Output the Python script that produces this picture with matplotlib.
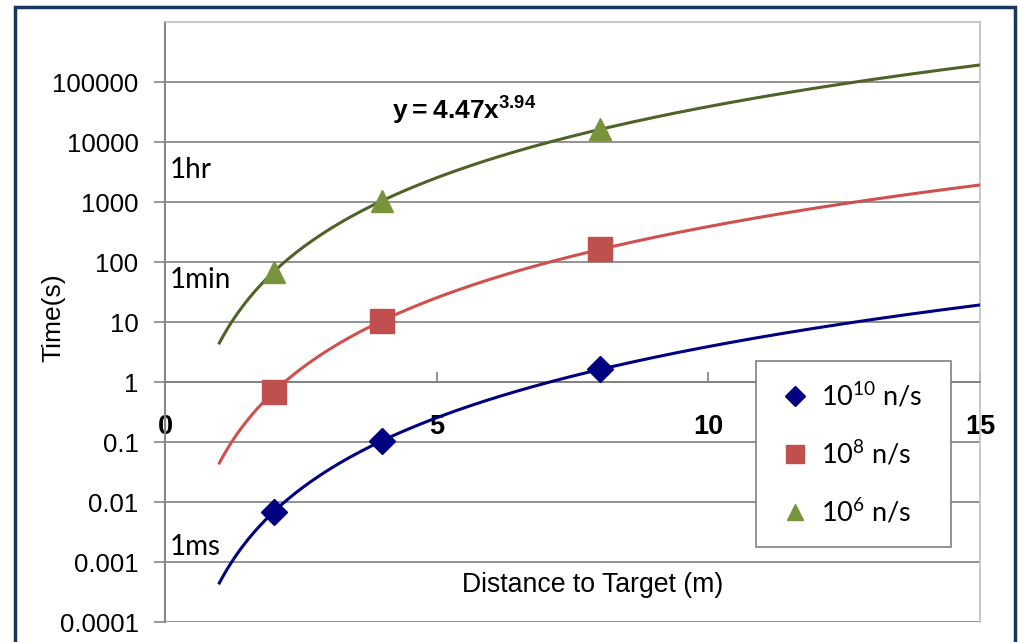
import numpy as np
import matplotlib.pyplot as plt
from matplotlib.patches import Rectangle
from matplotlib.ticker import FixedLocator, NullLocator

plt.rcParams['font.family'] = ['Liberation Sans', 'DejaVu Sans']
plt.rcParams['mathtext.fontset'] = 'custom'
plt.rcParams['mathtext.rm'] = 'Lato'
plt.rcParams['mathtext.bf'] = 'Liberation Sans:bold'

# source strength series: distance (m) vs. time (s)
distance = [2, 4, 8]
t_1e10 = [0.00686, 0.1053, 1.616]
t_1e8 = [0.686, 10.53, 161.6]
t_1e6 = [68.6, 1053, 16160]

series_labels = ['10$^{10}$ n/s', '10$^{8}$ n/s', '10$^{6}$ n/s']
y_ticks = [1e-4, 1e-3, 1e-2, 1e-1, 1, 10, 100, 1000, 1e4, 1e5]
y_ticklabels = ['0.0001', '0.001', '0.01', '0.1', '1', '10', '100', '1000', '10000', '100000']
x_ticks = [0, 5, 10, 15]

styles = [
    {'line': '#000080', 'marker': 'D', 'mfc': '#000080', 'ms': 13},
    {'line': '#D0504D', 'marker': 's', 'mfc': '#C0504D', 'ms': 17},
    {'line': '#4F6228', 'marker': '^', 'mfc': '#77933C', 'ms': 16},
]

fig = plt.figure(figsize=(10.19, 6.42), dpi=100)
ax = fig.add_axes([165 / 1019, 20 / 642, 815 / 1019, 600 / 642])

xfit = np.linspace(1, 15, 200)
for vals, st, lab in zip([t_1e10, t_1e8, t_1e6], styles, series_labels):
    # power-law trendline, fitted in log-log space
    b, a = np.polyfit(np.log10(distance), np.log10(vals), 1)
    ax.plot(xfit, 10 ** a * xfit ** b, color=st['line'], lw=2.2, zorder=3)
    ax.plot(distance, vals, linestyle='none', marker=st['marker'], ms=st['ms'],
            mfc=st['mfc'], mec=st['mfc'], label=lab, zorder=4)

ax.set_yscale('log')
ax.set_xlim(0, 15)
ax.set_ylim(1e-4, 1e6)

ax.yaxis.set_major_locator(FixedLocator(y_ticks))
ax.yaxis.set_minor_locator(NullLocator())
ax.set_yticklabels(y_ticklabels)
ax.tick_params(axis='y', direction='out', length=8, width=1.2, color='#868686',
               labelsize=18.5, pad=11)
for v in y_ticks:
    ax.axhline(v, color='#808080', lw=1.2, zorder=1)

# x axis crosses at y = 1
ax.spines['bottom'].set_position(('data', 1))
ax.spines['bottom'].set_color('#808080')
ax.spines['bottom'].set_linewidth(1.2)
ax.set_xticks(x_ticks)
ax.xaxis.set_minor_locator(NullLocator())
ax.tick_params(axis='x', direction='in', length=7, width=1.2, color='#808080',
               labelsize=19.5, pad=23)
for t in ax.get_xticklabels():
    t.set_fontweight('bold')

ax.spines['left'].set_color('#868686')
ax.spines['left'].set_linewidth(1.5)
for s in ['top', 'right']:
    ax.spines[s].set_color('#BFBFBF')
    ax.spines[s].set_linewidth(1.2)

fig.text(53 / 1019, 1 - 318 / 642, 'Time(s)', rotation=90, fontsize=19,
         ha='center', va='center')
ax.text(0.525, 0.062, 'Distance to Target (m)', transform=ax.transAxes,
        ha='center', va='center', fontsize=19.2)

ax.text(4.18, 2.33e4, r'$\mathbf{y = 4.47x^{3.94}}$', fontsize=19,
        ha='left', va='baseline')

for txt, yv in [('1hr', 3400), ('1min', 50), ('1ms', 0.0018)]:
    ax.text(0.08, yv, txt, fontsize=20, family='Lato', ha='left', va='center')

leg = ax.legend(loc='upper left', bbox_to_anchor=(0.725, 0.435), frameon=True,
                fancybox=False, edgecolor='#808080', framealpha=1,
                prop={'family': 'Lato', 'size': 19.5}, labelspacing=1.05,
                handletextpad=0.25, borderpad=0.75, handlelength=1.4,
                borderaxespad=0, markerscale=0.75)
leg.get_frame().set_linewidth(1.2)
# a little extra room on the right of the legend box
leg._legend_box.sep = 0
for t in leg.get_texts():
    t.set_text(t.get_text() + '  ')

# outer frame around the figure
fig.patches.append(Rectangle((15 / 1019, -0.05), 1000 / 1019, (635 / 642) + 0.05,
                             transform=fig.transFigure, fill=False,
                             edgecolor='#17375E', lw=2.5, clip_on=False))

fig.savefig('out.png', dpi=100)
